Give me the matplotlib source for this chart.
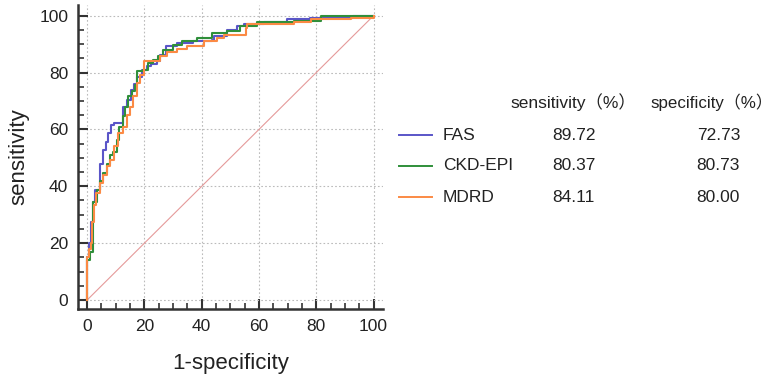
import matplotlib.pyplot as plt
from matplotlib.ticker import MultipleLocator

plt.rcParams['font.family'] = ['Liberation Sans', 'Noto Sans CJK SC', 'DejaVu Sans']

# ROC curves (1-specificity %, sensitivity %)
fas_x = [0, 0, 0.7, 1.5, 2.1, 2.7, 4.4, 5.6, 6.5, 7.4, 8.2, 9.3, 12.6, 13.8, 15.3, 16.4,
         17.5, 19.0, 20.8, 22.2, 24.3, 25.5, 27.6, 31.3, 37.0, 43.6, 44.2, 48.8, 52.3,
         54.7, 61.7, 69.9, 77.9, 93.0, 100]
fas_y = [0, 15, 20, 27.6, 34.6, 38.7, 48, 52.8, 55.7, 58.7, 61.6, 62.4, 68, 70.4, 73.7, 76,
         78.6, 81, 82.2, 83, 84, 86.3, 89.4, 90.4, 91, 91.5, 92.7, 95, 96.2,
         97.2, 97.7, 98.9, 99.2, 100, 100]

ckd_x = [0, 0, 0.9, 2.1, 3.5, 4.4, 5.6, 6.8, 7.9, 9.1, 10.3, 11.2, 12.6, 13.2, 14.3, 15.5,
         16.7, 17.5, 19.6, 21.3, 23.1, 24.8, 26.6, 30.1, 33.0, 38.3, 43.6, 48.8, 53.5,
         59.3, 72.2, 81.5, 93.0, 100]
ckd_y = [0, 14, 17, 34.6, 38.7, 41.7, 44.6, 48, 51, 52, 56.3, 61, 64.6, 68, 71.6, 73.4,
         75.7, 80.4, 81, 83.3, 84.5, 85.7, 88, 89.8, 91, 92.1, 93.9, 94.5, 96.2,
         97.7, 98, 99.8, 100, 100]

mdrd_x = [0, 0, 0.7, 1.2, 1.8, 2.3, 3.0, 4.4, 5.6, 6.8, 7.9, 9.3, 10.9, 12.6, 13.8, 14.9,
          16.1, 17.5, 18.5, 19.9, 25.5, 27.8, 31.3, 34.8, 40.7, 45.3, 47.7, 55.3, 55.8,
          72.2, 78.0, 92.1, 100]
mdrd_y = [0, 15, 18, 20, 27.6, 33.4, 37.6, 41, 44, 47, 49.3, 54, 58.7, 61, 65, 68,
          71.6, 76.3, 79.2, 84, 85.7, 87.4, 88.3, 89.4, 91, 92.1, 93.3, 95.7, 97.2,
          97.7, 98.8, 99.2, 100]

names = ['FAS', 'CKD-EPI', 'MDRD']
sens = ['89.72', '80.37', '84.11']
spec = ['72.73', '80.73', '80.00']
colors = ['#5a55c8', '#2f8f3a', '#fb8a44']

fig = plt.figure(figsize=(7.74, 3.76), dpi=100)
ax = fig.add_axes([0.1008, 0.178, 0.394, 0.809])

ax.plot([0, 100], [0, 100], color='#e59a9a', lw=0.8, zorder=2)
for xs, ys, c in zip([fas_x, ckd_x, mdrd_x], [fas_y, ckd_y, mdrd_y], colors):
    ax.plot(xs, ys, drawstyle='steps-post', color=c, lw=1.5, zorder=3)

ax.set_xlim(-3.2, 103.3)
ax.set_ylim(-3.2, 103.8)
ax.xaxis.set_major_locator(MultipleLocator(20))
ax.xaxis.set_minor_locator(MultipleLocator(5))
ax.yaxis.set_major_locator(MultipleLocator(20))
ax.yaxis.set_minor_locator(MultipleLocator(5))
ax.grid(True, which='major', linestyle=(0, (1.5, 2)), color='#bbbbbb', lw=0.8)

for s in ['top', 'right']:
    ax.spines[s].set_visible(False)
for s in ['left', 'bottom']:
    ax.spines[s].set_linewidth(1.8)
    ax.spines[s].set_color('#333333')

ax.tick_params(which='major', direction='in', length=7, width=1.5, color='#333333',
               labelsize=12.5, labelcolor='#222222', pad=7)
ax.tick_params(which='minor', direction='in', length=4, width=1.2, color='#333333')

ax.set_xlabel('1-specificity', fontsize=16, color='#222222', labelpad=14)
ax.set_ylabel('sensitivity', fontsize=16, color='#222222', labelpad=7)

# table-like legend on the right
fs = 12.5
fig.text(510 / 774, 1 - 102 / 376, 'sensitivity（%）', fontsize=fs, va='center', color='#222222')
fig.text(650 / 774, 1 - 102 / 376, 'specificity（%）', fontsize=12.2, va='center', color='#222222')
rows_y = [135, 166, 197]
for n, se, sp, c, yy in zip(names, sens, spec, colors, rows_y):
    yf = 1 - yy / 376
    fig.add_artist(plt.Line2D([399 / 774, 432 / 774], [yf, yf], color=c, lw=1.4))
    fig.text(443 / 774, yf, n, fontsize=fs, va='center', color='#222222')
    fig.text(552 / 774, yf, se, fontsize=fs, va='center', color='#222222')
    fig.text(740 / 774, yf, sp, fontsize=fs, va='center', ha='right', color='#222222')

plt.savefig('out.png', dpi=100)
